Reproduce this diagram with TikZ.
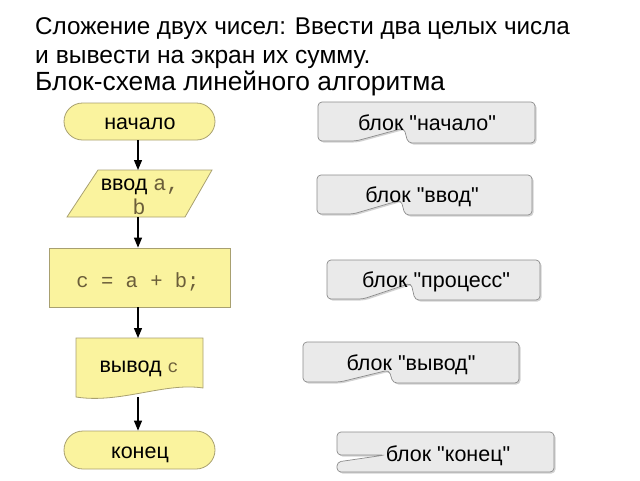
\documentclass[tikz,border=0pt]{standalone}
\usepackage{fontspec}
\setmainfont{Liberation Sans}
\setmonofont{Liberation Mono}
\newfontfamily\callfont{Liberation Sans}[Ligatures=TeXOff]
\usetikzlibrary{shadows,arrows.meta}
\definecolor{flowfill}{HTML}{FAF39E}
\definecolor{flowline}{HTML}{A8A070}
\definecolor{codecol}{HTML}{6B5E3A}
\definecolor{callfill}{HTML}{EAEAEA}
\definecolor{callline}{HTML}{8C8C8C}
\tikzset{
  title/.style={anchor=base west,inner sep=0pt},
  flowshape/.style={fill=flowfill,draw=flowline,line width=0.8pt},
  flowfont/.style={font=\fontsize{21.5}{24}\selectfont},
  flowtext/.style={inner sep=0pt,anchor=base,flowfont},
  code/.style={font=\ttfamily\fontsize{20.5}{24}\selectfont,text=codecol},
  flowarrow/.style={-{Triangle[length=10pt,width=8pt]},line width=1.2pt,black},
  callout/.style={fill=callfill,draw=callline,line width=0.7pt,rounded corners=4pt,
    drop shadow={shadow xshift=1.5pt,shadow yshift=-1.5pt,opacity=0.35}},
  calltext/.style={inner sep=0pt,anchor=base,font=\callfont\fontsize{21.5}{24}\selectfont},
}
\begin{document}
\begin{tikzpicture}[x=1pt,y=-1pt]
\useasboundingbox (0,0) rectangle (640,480);
% titles
\node[title,font=\fontsize{24.2}{24}\selectfont] (t1) at (35,34) {Сложение двух чисел: Ввести два целых числа};
\node[title,font=\fontsize{24.6}{24}\selectfont] (t2) at (35,63) {и вывести на экран их сумму.};
\node[title,font=\fontsize{26.3}{26}\selectfont] (t3) at (35,90) {Блок-схема линейного алгоритма};
% start
\node[flowshape,rounded corners=18.5pt,minimum width=151pt,minimum height=37pt,inner sep=0pt] (start) at (139.5,121.5) {};
\node[flowtext] (starttext) at (140,129) {начало};
% input parallelogram
\draw[flowshape] (98,170) -- (212,170) -- (185,217) -- (67,217) -- cycle;
\coordinate (intop) at (138,170);
\coordinate (inbot) at (138,217);
\node[flowtext] (in1) at (140,190) {ввод {\ttfamily\color{codecol}a,}};
\node[flowtext] (in2) at (139,214) {\ttfamily\color{codecol}b};
% process
\node[flowshape,minimum width=181pt,minimum height=59pt,inner sep=0pt] (proc) at (139.5,277.5) {};
\node[code,inner sep=0pt,anchor=base] (proctext) at (138,287) {c = a + b;};
% output document
\draw[flowshape] (76,338) -- (203,338) -- (203,388)
  .. controls (165,382) and (120,404) .. (76,397) -- cycle;
\coordinate (outtop) at (138,338);
\coordinate (outbot) at (138,397);
\node[flowtext] (out) at (139,372)
  {вывод {\ttfamily\color{codecol}\fontsize{18}{20}\selectfont c}};
% end
\node[flowshape,rounded corners=19pt,minimum width=151pt,minimum height=38pt,inner sep=0pt] (stop) at (139.5,450) {};
\node[flowtext] (stoptext) at (140,458) {конец};
% arrows
\draw[flowarrow] (start.south -| intop) -- (intop);
\draw[flowarrow] (inbot) -- (proc.north -| inbot);
\draw[flowarrow] (proc.south -| outtop) -- (outtop);
\draw[flowarrow] (outbot) -- (stop.north -| outbot);
% callouts
\draw[callout] (318,102) -- (535,102) -- (535,143) -- (408,143) -- (404,128) -- (356,141) -- (318,141) -- cycle;
\node[calltext] (c1) at (427,130) {блок "начало"};
\draw[callout] (317,175) -- (532,175) -- (532,215) -- (405,215) -- (401,200) -- (353,214) -- (317,214) -- cycle;
\node[calltext] (c2) at (422,202) {блок "ввод"};
\draw[callout] (327,260) -- (540,260) -- (540,300) -- (415,300) -- (411,283) -- (363,299) -- (327,299) -- cycle;
\node[calltext] (c3) at (436,287) {блок "процесс"};
\draw[callout] (303,342) -- (519,342) -- (519,383) -- (393,383) -- (389,370) -- (340,382) -- (303,382) -- cycle;
\node[calltext] (c4) at (411,370) {блок "вывод"};
\draw[callout] (337,432) -- (554,432) -- (554,472) -- (337,472) -- (337,462) -- (385,455) -- (337,455) -- cycle;
\node[calltext] (c5) at (448,461) {блок "конец"};
\end{tikzpicture}
\end{document}
